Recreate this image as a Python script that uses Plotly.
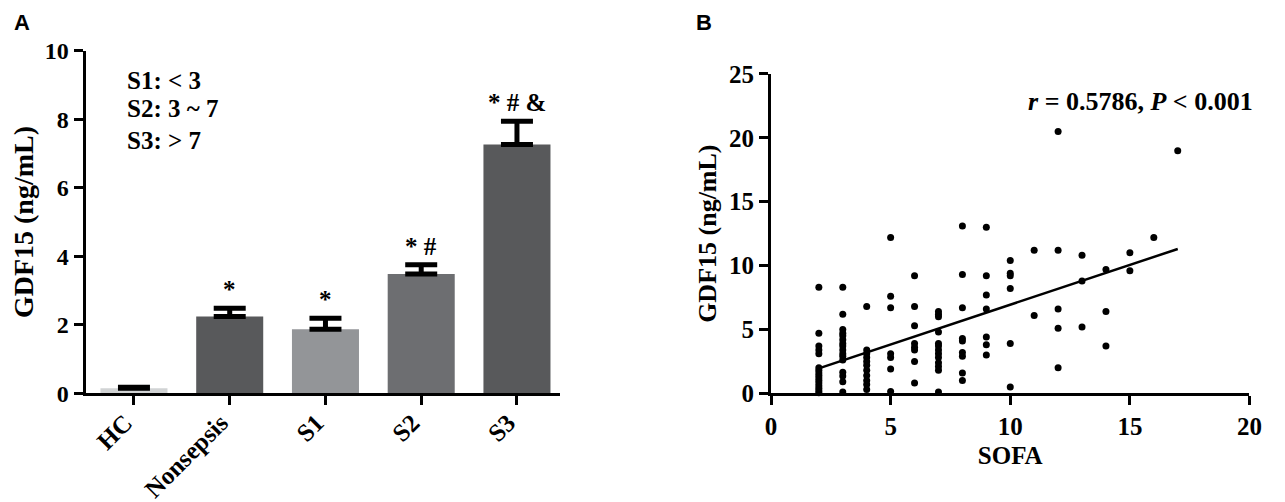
import plotly.graph_objects as go

# ---- Panel A: serum GDF15 by group (mean + SEM) ----
groups = ["HC", "Nonsepsis", "S1", "S2", "S3"]
gdf15_mean = [0.15, 2.24, 1.87, 3.48, 7.26]
gdf15_sem = [0.03, 0.24, 0.32, 0.27, 0.68]
sig_marks = ["", "*", "*", "* #", "* # &amp;"]
bar_colors = ["#d1d3d4", "#58595b", "#939598", "#6d6e71", "#58595b"]
stage_notes = ["S1: &lt; 3", "S2: 3 ~ 7", "S3: &gt; 7"]

# ---- Panel B: GDF15 vs SOFA score ----
sofa_scores = [2, 3, 4, 5, 6, 7, 8, 9, 10, 11, 12, 13, 14, 15, 16, 17]
gdf15_by_sofa = [
    [8.3, 4.7, 3.7, 3.4, 3.1, 2.0, 1.8, 1.6, 1.4, 1.2, 1.0, 0.8, 0.6, 0.4, 0.2, 0.05],
    [8.3, 6.2, 5.0, 4.7, 4.5, 4.2, 3.9, 3.7, 3.4, 3.1, 2.9, 2.6, 1.65, 1.35, 0.9, 0.1],
    [6.8, 3.4, 3.1, 2.8, 2.5, 2.2, 1.8, 1.4, 1.0, 0.7, 0.3],
    [12.2, 7.6, 6.7, 3.1, 2.8, 1.9, 0.15],
    [9.2, 6.8, 5.3, 3.9, 3.6, 3.4, 2.5, 0.8],
    [6.4, 6.2, 6.0, 4.8, 3.9, 3.7, 3.4, 3.1, 2.8, 2.4, 2.1, 1.8, 0.1],
    [13.1, 9.3, 6.7, 4.3, 4.1, 3.2, 2.9, 1.6, 1.0],
    [13.0, 9.2, 7.7, 6.6, 4.4, 3.8, 3.0],
    [10.4, 9.4, 9.2, 8.2, 3.9, 0.5],
    [11.2, 6.1],
    [20.5, 11.2, 6.6, 5.1, 2.0],
    [10.8, 8.8, 5.2],
    [9.7, 6.4, 3.7],
    [11.0, 9.6],
    [12.2],
    [19.0],
]
fit_x = [2, 17]
fit_y = [1.95, 11.3]
corr_text = "<b><i>r</i> = 0.5786, <i>P</i> &lt; 0.001</b>"

scatter_x = [s for s, vals in zip(sofa_scores, gdf15_by_sofa) for _ in vals]
scatter_y = [v for vals in gdf15_by_sofa for v in vals]

SERIF = "Liberation Serif"

def bold_font(size):
    return dict(family=SERIF, size=size, color="black", weight="bold")

fig = go.Figure()

fig.add_trace(go.Bar(
    x=groups, y=gdf15_mean,
    marker=dict(color=bar_colors, line=dict(width=0)),
    width=0.7,
    error_y=dict(type="data", symmetric=False, array=gdf15_sem,
                 arrayminus=[0] * len(groups), color="black",
                 thickness=5, width=16),
    xaxis="x", yaxis="y", showlegend=False,
))

fig.add_trace(go.Scatter(
    x=scatter_x, y=scatter_y, mode="markers",
    marker=dict(color="black", size=7),
    cliponaxis=False, xaxis="x2", yaxis="y2", showlegend=False,
))

fig.add_trace(go.Scatter(
    x=fit_x, y=fit_y, mode="lines",
    line=dict(color="black", width=2.5),
    xaxis="x2", yaxis="y2", showlegend=False,
))

# significance marks above the error bars
for g, m, s, mark in zip(groups, gdf15_mean, gdf15_sem, sig_marks):
    if mark:
        fig.add_annotation(x=g, y=m + s, xref="x", yref="y", text="<b>" + mark + "</b>",
                           showarrow=False, yanchor="bottom", yshift=3,
                           font=bold_font(25))

# stage definitions, one line each
for note, ypos in zip(stage_notes, [0.853, 0.796, 0.731]):
    fig.add_annotation(x=0.0916, y=ypos, xref="paper", yref="paper", text="<b>" + note + "</b>",
                       showarrow=False, xanchor="left", yanchor="middle",
                       font=bold_font(25))

fig.add_annotation(x=0.9765, y=0.81, xref="paper", yref="paper", text=corr_text,
                   showarrow=False, xanchor="right", yanchor="middle",
                   font=bold_font(26))

for letter, xpos in [("A", 0.003), ("B", 0.537)]:
    fig.add_annotation(x=xpos, y=1.0, xref="paper", yref="paper", text="<b>" + letter + "</b>",
                       showarrow=False, xanchor="left", yanchor="top",
                       font=dict(family="Liberation Sans", size=22, color="black"))

axis_style = dict(showline=True, linewidth=3, linecolor="black", ticks="outside",
                  ticklen=9, tickwidth=3, tickcolor="black", showgrid=False,
                  zeroline=False, automargin=False)

fig.update_layout(
    width=1277, height=494,
    margin=dict(l=0, r=0, t=0, b=0),
    paper_bgcolor="white", plot_bgcolor="white",
    xaxis=dict(domain=[0.0607, 0.4323], range=[-0.506, 4.45], tickangle=-45,
               tickfont=bold_font(25), ticklabelstandoff=-7, ticklabelshift=-9,
               **axis_style),
    yaxis=dict(domain=[0.22, 0.9136], range=[0, 10], dtick=2, tickfont=bold_font(24),
               title=dict(text="<b>GDF15 (ng/mL)</b>", font=bold_font(28), standoff=4),
               **axis_style),
    xaxis2=dict(domain=[0.5975, 0.9722], range=[0, 20], dtick=5, anchor="y2",
                tickfont=bold_font(25),
                title=dict(text="<b>SOFA</b>", font=bold_font(25), standoff=8),
                **axis_style),
    yaxis2=dict(domain=[0.22, 0.8664], range=[0, 25], dtick=5, anchor="x2",
                tickfont=bold_font(25),
                title=dict(text="<b>GDF15 (ng/mL)</b>", font=bold_font(26), standoff=5),
                **axis_style),
)

fig.write_html("out.html")
